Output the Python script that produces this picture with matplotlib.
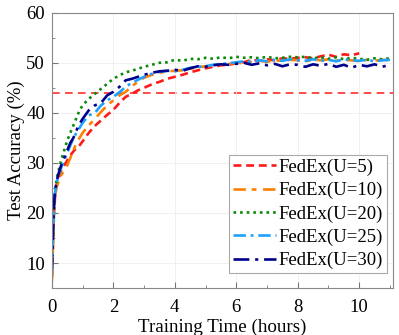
import matplotlib.pyplot as plt
from matplotlib.ticker import MultipleLocator

plt.rcParams['font.family'] = ['Liberation Serif', 'DejaVu Serif']

hours = [0, 0.03, 0.06, 0.1, 0.15, 0.2, 0.3, 0.4, 0.5, 0.6, 0.7, 0.8, 0.9, 1.0,
         1.2, 1.4, 1.6, 1.8, 2.0, 2.2, 2.4, 2.6, 2.8, 3.0, 3.25, 3.5, 3.75, 4.0,
         4.25, 4.5, 4.75, 5.0, 5.25, 5.5, 5.75, 6.0, 6.25, 6.5, 6.75, 7.0, 7.25,
         7.5, 7.75, 8.0, 8.25, 8.5, 8.75, 9.0, 9.25, 9.5, 9.75, 10.0, 10.25,
         10.5, 10.75, 11.0]

acc_u5 = [7.0, 13.0, 19.0, 23.0, 25.5, 26.5, 28.5, 29.5, 30.5, 31.5, 32.3, 33.0,
          33.5, 34.3, 36.0, 37.4, 38.5, 39.6, 40.6, 42.0, 43.2, 43.8, 44.5, 45.0,
          45.7, 46.2, 46.8, 47.2, 47.6, 48.1, 48.5, 48.9, 49.2, 49.5, 49.6, 49.9,
          50.1, 50.6, 50.4, 50.7, 50.5, 50.9, 50.8, 51.0, 51.1, 50.9, 51.3, 51.6,
          51.2, 51.7, 51.5, 51.9]
acc_u10 = [6.2, 12.0, 18.0, 23.0, 25.0, 26.0, 27.5, 28.5, 29.5, 31.0, 32.5, 34.0,
           35.0, 36.0, 37.5, 38.8, 40.2, 41.5, 42.5, 43.5, 44.2, 45.3, 46.2, 47.0,
           47.6, 48.0, 48.3, 48.4, 48.5, 48.8, 49.1, 49.3, 49.5, 49.6, 49.8, 50.0,
           49.9, 50.2, 50.4, 50.2, 50.5, 50.4, 50.6, 50.5, 50.3, 50.6, 50.5, 50.7,
           50.4, 50.6, 50.5, 50.3, 50.6, 50.4, 50.6, 50.5]
acc_u20 = [7.5, 14.0, 20.0, 24.0, 26.5, 28.0, 30.5, 32.5, 34.5, 36.0, 37.5, 39.0,
           40.5, 41.5, 42.8, 43.8, 44.8, 45.8, 46.8, 47.5, 48.1, 48.4, 48.8, 49.2,
           49.6, 50.0, 50.1, 50.6, 50.4, 50.8, 50.7, 51.0, 50.8, 51.1, 50.9, 51.2,
           51.0, 51.1, 50.9, 51.2, 50.9, 51.0, 51.2, 51.1, 51.2, 50.9, 51.1, 50.8,
           51.1, 50.7, 51.0, 50.8, 50.6, 50.9, 50.7, 50.9]
acc_u25 = [8.0, 14.0, 20.0, 24.0, 26.0, 27.0, 29.0, 30.5, 32.0, 33.5, 35.0, 36.0,
           37.0, 38.0, 39.5, 40.0, 41.5, 42.5, 43.2, 44.1, 45.2, 46.0, 46.6, 47.2,
           47.8, 48.2, 48.4, 48.3, 48.6, 49.0, 49.2, 49.3, 49.6, 49.8, 49.9, 50.1,
           50.3, 50.2, 50.5, 50.3, 50.6, 50.4, 50.7, 50.5, 50.4, 50.7, 50.4, 50.6,
           50.3, 50.7, 50.5, 50.4, 50.6, 50.3, 50.5, 50.6]
acc_u30 = [8.5, 14.5, 20.5, 24.5, 26.0, 27.5, 29.5, 31.0, 32.5, 34.0, 35.0, 36.5,
           37.8, 38.8, 40.5, 41.5, 42.0, 43.5, 44.2, 45.2, 46.5, 46.8, 47.2, 47.6,
           48.0, 48.3, 48.4, 48.6, 48.4, 48.9, 49.3, 49.2, 49.5, 49.7, 49.6, 49.8,
           50.0, 49.6, 49.9, 49.5, 49.8, 49.3, 49.7, 49.6, 49.2, 49.7, 49.4, 49.8,
           49.2, 49.6, 49.0, 49.6, 49.3, 49.7, 49.2, 49.6]

target_acc = 44

series = [
    ("FedEx(U=5)", acc_u5, '#ff1a1a', (3, 1.8)),
    ("FedEx(U=10)", acc_u10, '#ff8000', (4.7, 2.2, 1.8, 2.5)),
    ("FedEx(U=20)", acc_u20, '#0a8a0a', (1, 1.5)),
    ("FedEx(U=25)", acc_u25, '#1ea0ff', (4.7, 1.8, 1.1, 1.8)),
    ("FedEx(U=30)", acc_u30, '#00008b', (6, 2.2, 1.2, 2.2)),
]

fig = plt.figure(figsize=(3.99, 3.35), dpi=100)
ax = fig.add_axes([0.130, 0.140, 0.855, 0.822])

ax.axhline(target_acc, color='#ff1a1a', lw=1.1, dashes=(5, 3.5), zorder=1)

for label, acc, color, dash in series:
    ax.plot(hours[:len(acc)], acc, color=color, lw=1.9, dashes=dash, label=label)

ax.set_xlim(0, 11.1)
ax.set_ylim(5, 60)
ax.xaxis.set_major_locator(MultipleLocator(2))
ax.xaxis.set_minor_locator(MultipleLocator(1))
ax.yaxis.set_major_locator(MultipleLocator(10))
ax.yaxis.set_minor_locator(MultipleLocator(5))
ax.tick_params(which='both', direction='in', labelsize=13.5, color='#777777')
ax.tick_params(axis='x', which='major', pad=8)
ax.tick_params(axis='y', which='major', pad=5)
ax.tick_params(which='major', length=4)
ax.tick_params(which='minor', length=2)
ax.grid(True, color='#eeeeee', lw=0.6)
for s in ax.spines.values():
    s.set_color('#888888')

ax.set_xlabel("Training Time (hours)", fontsize=13.7, labelpad=2)
ax.set_ylabel("Test Accuracy (%)", fontsize=13.5, labelpad=1)

leg = ax.legend(loc='lower right', bbox_to_anchor=(0.982, 0.055), borderaxespad=0,
                fontsize=13.5, handlelength=2.3, fancybox=False,
                edgecolor='#aaaaaa', framealpha=1, borderpad=0.2, labelspacing=0.32,
                handletextpad=0.15)
leg.get_frame().set_linewidth(0.8)

fig.savefig("out.png", dpi=100)
